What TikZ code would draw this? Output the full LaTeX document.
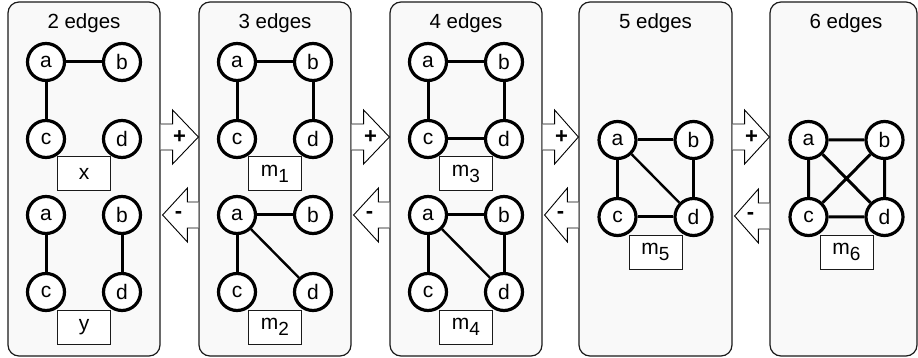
\documentclass[tikz,border=0pt]{standalone}
\usepackage{fontspec}
\setmainfont{Liberation Sans}
\usetikzlibrary{calc}
\definecolor{panelgray}{HTML}{F9F9F9}
\definecolor{edgeline}{HTML}{1A1A1A}
\newcommand\msub[1]{m\raisebox{-6pt}{\fontsize{19}{19}\selectfont #1}}
\newcommand\fourv[4]{%
  \node[vtx] (#1a) at (#2-38,#3) {a};
  \node[vtx] (#1b) at (#2+38,#3) {b};
  \node[vtx] (#1c) at (#2-38,#3+77) {c};
  \node[vtx] (#1d) at (#2+38,#3+77) {d};
  \node[lbl] (#1l) at (#2,#3+112) {#4};
}
\newcommand\plusarr[3]{%
  \path (#1.east |- 0,#3) coordinate (#1#2pl) (#2.west |- 0,#3) coordinate (#1#2pr);
  \filldraw[blockarr] ($(#1#2pl)+(0,-13)$) -- ++(12,0) -- ++(0,-14) -- (#1#2pr)
     -- ($(#1#2pl)+(12,27)$) -- ++(0,-14) -- ++(-12,0);
  \node[sign] (#1#2plus) at ($(#1#2pl)+(19,0)$) {+};
}
\newcommand\minusarr[3]{%
  \path (#1.east |- 0,#3) coordinate (#1#2ml) (#2.west |- 0,#3) coordinate (#1#2mr);
  \filldraw[blockarr] ($(#1#2mr)+(0,-13)$) -- ++(-11,0) -- ++(0,-14) -- ($(#1#2ml)+(2,0)$)
     -- ($(#1#2mr)+(-11,27)$) -- ++(0,-14) -- ++(11,0);
  \node[sign] (#1#2minus) at ($(#1#2ml)+(18,0)$) {-};
}
\begin{document}
\begin{tikzpicture}[x=1pt,y=-1pt,
  panel/.style={draw=edgeline, line width=1.2pt, fill=panelgray, rounded corners=11pt,
    minimum height=354pt, inner sep=0pt},
  vtx/.style={circle, draw=black, line width=3.2pt, fill=white, minimum size=37pt,
    inner sep=0pt, font=\fontsize{21}{21}\selectfont},
  lbl/.style={draw=edgeline, line width=1pt, fill=white, minimum width=53pt,
    minimum height=34pt, inner sep=0pt, font=\fontsize{21}{21}\selectfont},
  title/.style={anchor=base, font=\fontsize{20.5}{20.5}\selectfont},
  gedge/.style={line width=3pt},
  dedge/.style={line width=2.4pt},
  blockarr/.style={draw=black, line width=0.9pt, fill=white, line join=miter},
  sign/.style={font=\fontsize{22}{22}\selectfont\bfseries}
]
\useasboundingbox (0,0) rectangle (918,358);
% panels
\node[panel, minimum width=152pt] (p1) at (84,179) {};
\node[panel, minimum width=152pt] (p2) at (275,179) {};
\node[panel, minimum width=152pt] (p3) at (466,179) {};
\node[panel, minimum width=153pt] (p4) at (655.5,179) {};
\node[panel, minimum width=147pt] (p5) at (843.5,179) {};
% titles
\node[title] (t1) at (84,29) {2 edges};
\node[title] (t2) at (275,29) {3 edges};
\node[title] (t3) at (466,29) {4 edges};
\node[title] (t4) at (655.5,29) {5 edges};
\node[title] (t5) at (846,29) {6 edges};
% arrows
\plusarr{p1}{p2}{137}
\plusarr{p2}{p3}{137}
\plusarr{p3}{p4}{137}
\plusarr{p4}{p5}{137}
\minusarr{p1}{p2}{215}
\minusarr{p2}{p3}{215}
\minusarr{p3}{p4}{215}
\minusarr{p4}{p5}{216}
% graphs
\fourv{x}{84}{62}{x}
\fourv{y}{84}{215}{y}
\fourv{mA}{275}{62}{\msub{1}}
\fourv{mB}{275}{215}{\msub{2}}
\fourv{mC}{466}{62}{\msub{3}}
\fourv{mD}{466}{215}{\msub{4}}
\fourv{mE}{655.5}{140}{\msub{5}}
\fourv{mF}{846.5}{140}{\msub{6}}
% edges
\draw[gedge] (xa) -- (xb) (xa) -- (xc);
\draw[gedge] (ya) -- (yc) (yb) -- (yd);
\draw[gedge] (mAa) -- (mAb) (mAa) -- (mAc) (mAb) -- (mAd);
\draw[gedge] (mBa) -- (mBb) (mBa) -- (mBc);
\draw[dedge] (mBa) -- (mBd);
\draw[gedge] (mCa) -- (mCb) (mCa) -- (mCc) (mCb) -- (mCd) (mCc) -- (mCd);
\draw[gedge] (mDa) -- (mDb) (mDa) -- (mDc) (mDb) -- (mDd);
\draw[dedge] (mDa) -- (mDd);
\draw[gedge] (mEa) -- (mEb) (mEa) -- (mEc) (mEb) -- (mEd) (mEc) -- (mEd);
\draw[dedge] (mEa) -- (mEd);
\draw[gedge] (mFa) -- (mFb) (mFa) -- (mFc) (mFb) -- (mFd) (mFc) -- (mFd) (mFa) -- (mFd) (mFb) -- (mFc);
\end{tikzpicture}
\end{document}
